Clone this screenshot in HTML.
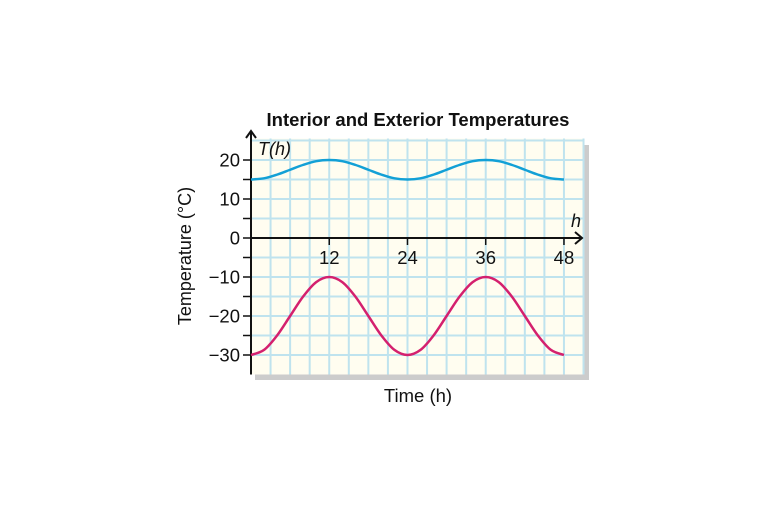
<!DOCTYPE html>
<html><head><meta charset="utf-8"><style>
body{margin:0;background:#fff;}
svg text{font-family:"Liberation Sans",sans-serif;fill:#111;}
</style></head><body>
<svg id="chart" width="768" height="512" viewBox="0 0 768 512">
<text x="418" y="126" text-anchor="middle" font-size="18.5" font-weight="bold">Interior and Exterior Temperatures</text>
<rect x="255" y="145" width="334" height="235" fill="#cccccc"/>
<rect id="panel" fill="#fffdf0"/>
<g id="grid"></g>
<g id="axes"></g>
<g id="series"></g>
<text x="191" y="256" transform="rotate(-90 191 256)" text-anchor="middle" font-size="18">Temperature (°C)</text>
<text x="418" y="402" text-anchor="middle" font-size="18.5">Time (h)</text>
<text x="258" y="155" font-size="18" font-style="italic">T(h)</text>
<text x="571" y="227" font-size="18" font-style="italic">h</text>
</svg>
<script>
const hours=[0,2,4,6,8,10,12,14,16,18,20,22,24,26,28,30,32,34,36,38,40,42,44,46,48];
const interior=[15,15.3,16.25,17.5,18.75,19.7,20,19.7,18.75,17.5,16.25,15.3,15,15.3,16.25,17.5,18.75,19.7,20,19.7,18.75,17.5,16.25,15.3,15];
const exterior=[-30,-28.7,-25,-20,-15,-11.3,-10,-11.3,-15,-20,-25,-28.7,-30,-28.7,-25,-20,-15,-11.3,-10,-11.3,-15,-20,-25,-28.7,-30];
const xTicks=[12,24,36,48];
const yTicks=[20,10,0,-10,-20,-30];
const X=h=>251+h*6.52, Y=v=>238-v*3.9;
const NS="http://www.w3.org/2000/svg";
function mk(parent,tag,attrs){const e=document.createElementNS(NS,tag);for(const k in attrs)e.setAttribute(k,attrs[k]);document.getElementById(parent).appendChild(e);return e;}
const panel=document.getElementById('panel');
panel.setAttribute('x',X(0));panel.setAttribute('y',Y(25.5));panel.setAttribute('width',X(51)-X(0));panel.setAttribute('height',Y(-35)-Y(25.5));
for(let h=3;h<=51;h+=3){const l=mk('grid','line',{x1:X(h),x2:X(h),y1:Y(25.5),y2:Y(-35),stroke:'#bfe3ee','stroke-width':2});

}
for(let v=-30;v<=25;v+=5){const l=mk('grid','line',{x1:X(0),x2:X(51),y1:Y(v),y2:Y(v),stroke:'#bfe3ee','stroke-width':2});

}
const ya=mk('axes','path',{d:`M${X(0)} ${Y(-35)}V132 M${X(0)-5} 138L${X(0)} 131L${X(0)+5} 138`,stroke:'#111','stroke-width':2,fill:'none'});


const xa=mk('axes','path',{d:`M${X(0)} ${Y(0)}H582 M575 ${Y(0)-6}L582 ${Y(0)}L575 ${Y(0)+6}`,stroke:'#111','stroke-width':2,fill:'none'});


for(let v=-30;v<=20;v+=5){const t=mk('axes','line',{x1:X(0)-8,x2:X(0),y1:Y(v),y2:Y(v),stroke:'#111','stroke-width':1.5});

}
yTicks.forEach(v=>{const t=mk('axes','text',{x:X(0)-11,y:Y(v)+6.5,'text-anchor':'end','font-size':18.5});t.textContent=v<0?'\u2212'+(-v):v;

});
xTicks.forEach(h=>{const t=mk('axes','text',{x:X(h),y:Y(0)+26,'text-anchor':'middle','font-size':18.5});t.textContent=h;


const m=mk('axes','line',{x1:X(h),x2:X(h),y1:Y(0),y2:Y(0)+7,stroke:'#111','stroke-width':1.5});

});
function curve(vals){const p=hours.map((h,i)=>[X(h),Y(vals[i])]);let d=`M${p[0][0]} ${p[0][1]}`;
for(let i=0;i<p.length-1;i++){const a=p[i-1]||p[i],b=p[i],c=p[i+1],e=p[i+2]||c;
d+=`C${b[0]+(c[0]-a[0])/6} ${b[1]+(c[1]-a[1])/6} ${c[0]-(e[0]-b[0])/6} ${c[1]-(e[1]-b[1])/6} ${c[0]} ${c[1]}`;}return d;}
const s1=mk('series','path',{d:curve(interior),stroke:'#12a0d6','stroke-width':2.5,fill:'none'});


const s2=mk('series','path',{d:curve(exterior),stroke:'#d4206e','stroke-width':2.5,fill:'none'});


</script>
</body></html>
